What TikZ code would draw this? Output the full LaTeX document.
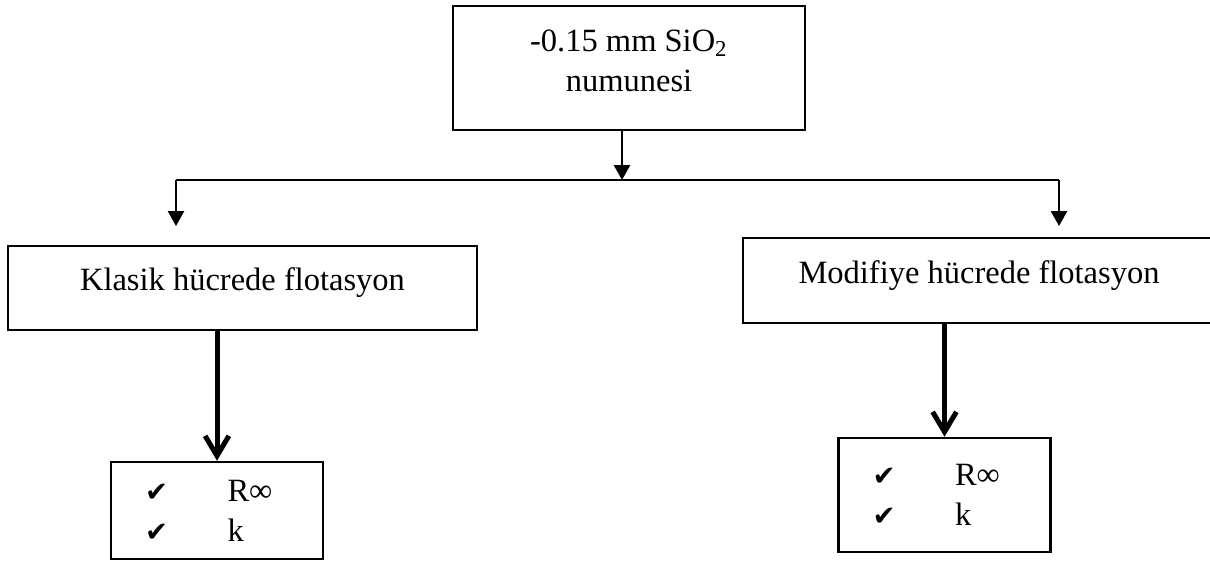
\documentclass[tikz,border=0pt]{standalone}
\usepackage{fontspec}
\setmainfont{Liberation Serif}
\newfontfamily\checkfont{DejaVu Sans}
\usetikzlibrary{arrows.meta}
\def\tick{{\checkfont\fontsize{11}{12}\selectfont ✔}}
\def\tickline#1{\makebox[33pt][l]{\tick}#1}
\tikzset{box/.style={draw, line width=1pt, inner sep=0pt,
        font=\fontsize{13}{16}\selectfont},
    result/.style={box, align=left, inner xsep=13.6pt, text width=57.6pt},
    link/.style={line width=0.8pt, -{Triangle[width=6.5pt,length=6pt]}},
    bold link/.style={line width=2pt, -{Straight Barb[width=9.5pt,length=8pt]}}}

\begin{document}
\begin{tikzpicture}[x=0.4pt,y=-0.4pt]
    \useasboundingbox (0,0) rectangle (1210,560);
    \node[box, align=center, text depth=6pt, minimum width=140.8pt, minimum height=49.6pt] (sample) at (629,68)
        {-0.15 mm SiO\textsubscript{2}\\ numunesi};
    \node[box, text depth=7pt, minimum width=187.6pt, minimum height=33.6pt] (klasik) at (242.5,288)
        {Klasik hücrede flotasyon};
    \node[box, text depth=7pt, minimum width=188.8pt, minimum height=34pt] (modif) at (979,280.5)
        {Modifiye hücrede flotasyon};
    \node[result, minimum height=38.8pt] (kres) at (217,510.5)
        {\tickline{R∞}\\ \tickline{k}};
    \node[result, minimum height=45.6pt] (mres) at (944.5,495)
        {\tickline{R∞}\\ \tickline{k}};

    \coordinate (split) at (622,180);
    \coordinate (lft)   at (176,180);
    \coordinate (rgt)   at (1059,180);
    \coordinate (ltip)  at (176,226);
    \coordinate (rtip)  at (1059,226);

    \draw[link] (sample.south -| split) -- (split);
    \draw[line width=0.8pt] (lft) -- (rgt);
    \draw[link] (lft) -- (ltip);
    \draw[link] (rgt) -- (rtip);
    \draw[bold link] (klasik.south -| kres.north) -- (kres.north);
    \draw[bold link] (modif.south -| mres.north) -- (mres.north);
\end{tikzpicture}
\end{document}
